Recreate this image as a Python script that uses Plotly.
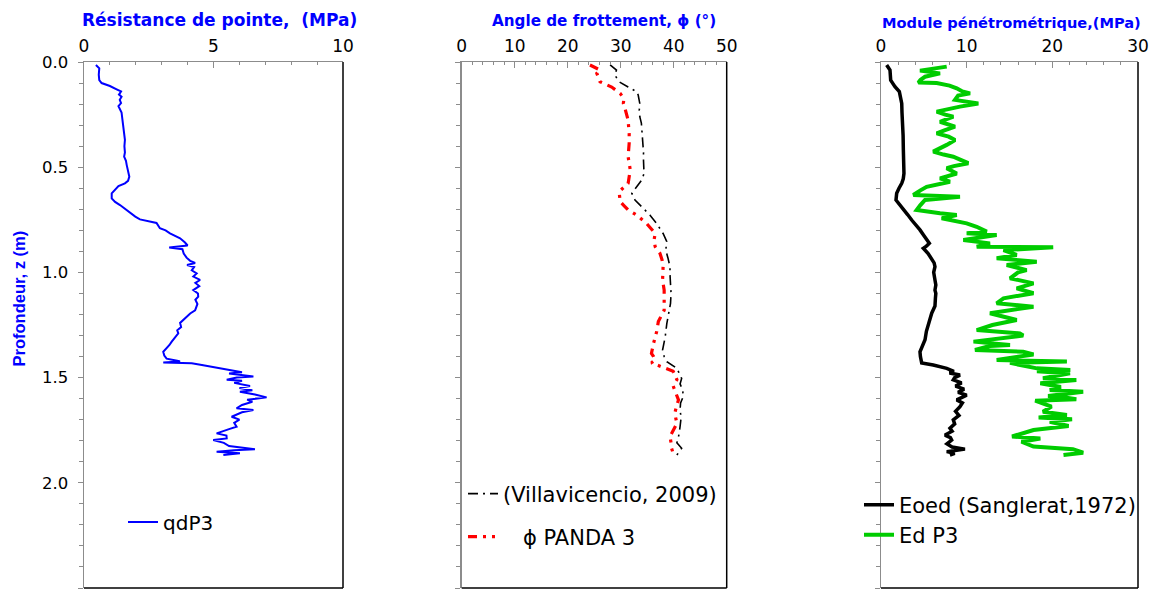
import plotly.graph_objects as go

# ---------------- data ----------------
# Panel 1 : cone resistance qd (MPa) vs depth z (m)
qd_z = [0.014, 0.03, 0.06, 0.086, 0.10, 0.114, 0.13, 0.14, 0.155, 0.165, 0.18, 0.195, 0.21, 0.225, 0.24, 0.27,
        0.31, 0.34, 0.37, 0.40, 0.43, 0.45, 0.47, 0.49, 0.52, 0.545, 0.565, 0.577, 0.59, 0.605, 0.624, 0.648,
        0.665, 0.68, 0.70, 0.72, 0.735, 0.748, 0.759, 0.765, 0.79, 0.80, 0.814, 0.83, 0.838, 0.858, 0.872,
        0.882, 0.89, 0.91, 0.93, 0.945, 0.955, 0.965, 0.975, 0.99, 1.005, 1.02, 1.036, 1.05, 1.065, 1.084,
        1.10, 1.115, 1.13, 1.15, 1.18, 1.195, 1.21, 1.225, 1.24, 1.26, 1.275, 1.29, 1.31, 1.33, 1.345, 1.36,
        1.377, 1.395, 1.41, 1.42, 1.424, 1.428, 1.432, 1.44, 1.45, 1.46, 1.47, 1.475, 1.48, 1.49, 1.495, 1.50,
        1.51, 1.515, 1.525, 1.54, 1.55, 1.56, 1.567, 1.58, 1.594, 1.605, 1.615, 1.63, 1.646, 1.654, 1.665,
        1.686, 1.70, 1.715, 1.733, 1.745, 1.765, 1.775, 1.789, 1.797, 1.81, 1.825, 1.84, 1.845, 1.852, 1.86, 1.868]
qd_val = [0.46, 0.59, 0.57, 0.59, 0.68, 1.00, 1.26, 1.43, 1.35, 1.45, 1.38, 1.43, 1.33, 1.40, 1.45, 1.48,
          1.52, 1.55, 1.58, 1.56, 1.58, 1.55, 1.62, 1.65, 1.70, 1.75, 1.70, 1.58, 1.33, 1.20, 1.07, 1.07,
          1.20, 1.39, 1.60, 1.78, 1.98, 2.16, 2.61, 2.80, 2.93, 3.15, 3.32, 3.55, 3.71, 3.90, 4.00,
          3.29, 3.80, 3.85, 3.96, 4.10, 4.29, 3.98, 4.25, 4.16, 4.35, 4.22, 4.48, 4.30, 4.45, 4.22,
          4.40, 4.41, 4.30, 4.38, 4.29, 4.10, 3.96, 3.85, 3.71, 3.75, 3.60, 3.64, 3.50, 3.38, 3.30, 3.19,
          3.06, 3.10, 3.19, 3.60, 3.71, 3.06, 4.16, 4.55, 4.99, 5.40, 5.76, 6.10, 5.60, 6.40, 6.54, 5.90,
          5.51, 6.10, 5.80, 6.41, 6.00, 6.50, 6.02, 6.60, 7.05, 6.30, 6.50, 6.10, 5.89, 6.54, 6.10,
          5.70, 6.00, 5.80, 5.89, 5.60, 5.12, 5.50, 5.51, 4.99, 5.40, 5.60, 6.60, 5.80, 5.12, 6.02, 5.38]

# Panel 2 : friction angle (deg)
vil_z = [0.014, 0.038, 0.062, 0.094, 0.119, 0.141, 0.157, 0.197, 0.23, 0.26, 0.29, 0.323, 0.36, 0.386, 0.43,
         0.466, 0.50, 0.53, 0.56, 0.585, 0.605, 0.624, 0.656, 0.696, 0.727, 0.768, 0.815, 0.854, 0.894, 0.93,
         0.973, 1.01, 1.052, 1.10, 1.147, 1.20, 1.243, 1.306, 1.34, 1.369, 1.40, 1.424, 1.456, 1.48, 1.504,
         1.53, 1.56, 1.59, 1.62, 1.654, 1.69, 1.733, 1.77, 1.81, 1.836, 1.868]
vil_phi = [28.0, 29.2, 28.9, 29.7, 31.4, 33.0, 33.3, 33.6, 33.5, 33.6, 33.9, 34.0, 34.1, 34.2, 34.3,
           34.3, 34.4, 34.4, 34.0, 33.3, 32.6, 32.1, 32.7, 34.3, 35.5, 36.8, 38.0, 38.7, 38.5, 38.9,
           39.3, 39.3, 39.4, 39.5, 39.4, 39.0, 38.7, 38.4, 38.2, 37.9, 38.2, 38.7, 40.6, 41.0, 41.5,
           41.2, 41.7, 41.8, 41.3, 41.2, 41.4, 41.2, 41.0, 40.6, 41.5, 40.6]

pan_z = [0.014, 0.025, 0.038, 0.054, 0.075, 0.094, 0.119, 0.149, 0.175, 0.197, 0.22, 0.25, 0.276, 0.31, 0.34,
         0.386, 0.42, 0.45, 0.48, 0.513, 0.545, 0.577, 0.616, 0.64, 0.664, 0.685, 0.703, 0.727, 0.768, 0.815,
         0.845, 0.878, 0.909, 0.94, 0.973, 1.036, 1.084, 1.13, 1.18, 1.234, 1.28, 1.337, 1.385, 1.40, 1.416,
         1.43, 1.45, 1.47, 1.49, 1.51, 1.54, 1.57, 1.606, 1.64, 1.67, 1.718, 1.75, 1.78, 1.81, 1.836, 1.86]
pan_phi = [24.2, 25.0, 26.1, 25.5, 25.8, 26.1, 28.3, 29.9, 30.6, 30.5, 30.8, 31.2, 31.4, 31.5, 31.6,
           31.6, 31.5, 31.4, 31.6, 31.8, 31.6, 31.4, 29.7, 29.8, 29.9, 30.7, 31.4, 33.0, 34.9, 36.5,
           36.3, 36.5, 37.4, 37.8, 38.0, 37.9, 38.2, 38.2, 38.2, 37.1, 36.8, 36.2, 35.8, 36.2, 36.5,
           35.8, 38.0, 39.9, 40.3, 40.6, 39.9, 40.4, 40.9, 40.5, 40.2, 40.6, 40.0, 39.3, 39.5, 39.6, 39.9]

# Panel 3 : penetrometric modulus (MPa)
eoed_z = [0.014, 0.038, 0.086, 0.117, 0.141, 0.17, 0.197, 0.24, 0.29, 0.35, 0.418, 0.47, 0.53, 0.555, 0.577,
          0.60, 0.624, 0.656, 0.696, 0.725, 0.751, 0.775, 0.798, 0.825, 0.846, 0.862, 0.875, 0.885, 0.91,
          0.933, 0.955, 0.973, 1.00, 1.036, 1.06, 1.084, 1.10, 1.123, 1.16, 1.194, 1.243, 1.28, 1.32, 1.35,
          1.377, 1.40, 1.43, 1.44, 1.456, 1.47, 1.478, 1.488, 1.50, 1.511, 1.525, 1.54, 1.555, 1.57, 1.583,
          1.595, 1.606, 1.62, 1.638, 1.66, 1.68, 1.701, 1.72, 1.741, 1.755, 1.773, 1.785, 1.797, 1.815, 1.83,
          1.84, 1.852, 1.86, 1.868]
eoed_val = [0.66, 1.05, 1.13, 1.63, 2.14, 2.30, 2.42, 2.45, 2.53, 2.58, 2.61, 2.65, 2.68, 2.60, 2.42,
            2.10, 1.83, 1.75, 2.61, 3.10, 3.58, 4.10, 4.55, 5.00, 5.33, 5.64, 5.30, 4.94, 5.50,
            5.92, 6.20, 6.30, 6.15, 6.30, 6.40, 6.30, 6.40, 6.35, 6.30, 5.92, 5.52, 5.30, 5.14, 4.80,
            4.55, 4.60, 4.75, 6.10, 7.67, 8.50, 8.00, 9.22, 8.60, 8.44, 9.40, 8.70, 9.70, 9.00, 10.0,
            9.40, 8.84, 9.50, 9.22, 8.70, 9.10, 8.44, 8.60, 8.05, 8.30, 7.47, 8.10, 8.25, 7.70, 8.30,
            9.80, 7.67, 8.60, 8.05]

ed_z = [0.022, 0.041, 0.054, 0.07, 0.085, 0.098, 0.10, 0.112, 0.125, 0.14, 0.149, 0.16, 0.18, 0.19, 0.197,
        0.212, 0.236, 0.25, 0.26, 0.284, 0.307, 0.325, 0.339, 0.355, 0.371, 0.394, 0.426, 0.44, 0.45, 0.465,
        0.481, 0.495, 0.505, 0.53, 0.553, 0.569, 0.593, 0.61, 0.632, 0.64, 0.656, 0.68, 0.703, 0.719, 0.727,
        0.743, 0.767, 0.783, 0.806, 0.814, 0.822, 0.846, 0.862, 0.878, 0.881, 0.894, 0.917, 0.933, 0.949,
        0.965, 0.989, 1.0, 1.028, 1.052, 1.076, 1.099, 1.123, 1.147, 1.163, 1.194, 1.226, 1.25, 1.274, 1.29,
        1.30, 1.329, 1.345, 1.35, 1.369, 1.377, 1.39, 1.416, 1.424, 1.43, 1.456, 1.464, 1.47, 1.48, 1.503,
        1.511, 1.527, 1.545, 1.559, 1.567, 1.575, 1.587, 1.595, 1.603, 1.61, 1.638, 1.662, 1.678, 1.69,
        1.698, 1.71, 1.73, 1.749, 1.765, 1.78, 1.789, 1.805, 1.828, 1.84, 1.857, 1.868]
ed_val = [7.67, 4.55, 6.89, 5.14, 4.60, 4.36, 6.50, 8.0, 8.84, 9.5, 10.4, 9.0, 8.64, 10.3, 11.36,
          9.22, 6.50, 7.5, 8.44, 6.89, 8.64, 7.4, 6.50, 7.9, 8.64, 7.67, 6.10, 7.3, 8.44, 9.3,
          10.19, 8.5, 7.67, 8.84, 6.89, 8.05, 5.33, 4.6, 3.77, 9.22, 5.14, 4.6, 4.17, 6.89, 8.84,
          7.08, 10.0, 11.17, 12.34, 10.0, 13.5, 9.61, 12.72, 11.17, 20.1, 14.3, 15.84, 13.5, 18.18,
          14.67, 17.0, 16.0, 15.06, 17.8, 15.84, 17.8, 14.3, 13.5, 17.8, 12.72, 15.84, 13.0, 11.17, 16.2,
          16.6, 10.8, 15.06, 12.7, 10.97, 16.6, 17.8, 13.5, 21.7, 15.06, 18.2, 22.1, 18.2, 22.06, 18.9,
          22.8, 18.6, 21.0, 19.7, 23.6, 22.06, 19.5, 21.5, 22.8, 18.0, 19.9, 18.9, 21.7, 18.4,
          22.3, 19.7, 21.9, 17.8, 16.5, 15.3, 18.6, 16.4, 17.8, 22.4, 23.6, 21.3]

x_ranges = [[0, 10], [0, 50], [0, 30]]
x_dticks = [5, 10, 10]
x_minor = [1, 2, 2]
titles = ["Résistance de pointe,\u00a0 (MPa)", "Angle de frottement, ϕ (°)", "Module pénétrométrique,(MPa)"]
y_range = [2.5, 0]

# ---------------- figure ----------------
W, H = 1153, 596
FONT = "DejaVu Sans, Verdana, sans-serif"
FONT_Y = "Liberation Sans, Arial, sans-serif"
px_x = lambda p: p / W
px_y = lambda p: 1 - p / H

fig = go.Figure()
fig.add_trace(go.Scatter(x=qd_val, y=qd_z, mode="lines", name="qdP3", xaxis="x", yaxis="y",
                         line=dict(color="#0000FF", width=2), legend="legend"))
fig.add_trace(go.Scatter(x=vil_phi, y=vil_z, mode="lines", name="(Villavicencio, 2009)", xaxis="x2", yaxis="y2",
                         line=dict(color="black", width=1.6, dash="10px,5px,2px,5px"), legend="legend2"))
fig.add_trace(go.Scatter(x=pan_phi, y=pan_z, mode="lines", name="\u00a0" * 3 + "ϕ PANDA 3", xaxis="x2", yaxis="y2",
                         line=dict(color="#FF0000", width=3.2, dash="9px,6px,3px,6px,3px,6px"), legend="legend3"))
fig.add_trace(go.Scatter(x=eoed_val, y=eoed_z, mode="lines", name="Eoed (Sanglerat,1972)", xaxis="x3", yaxis="y3",
                         line=dict(color="black", width=3.5), legend="legend4"))
fig.add_trace(go.Scatter(x=ed_val, y=ed_z, mode="lines", name="Ed P3", xaxis="x3", yaxis="y3",
                         line=dict(color="#00CC00", width=4), legend="legend5"))

domains = [[84, 343], [461.7, 726.7], [881, 1138]]
ydom = [px_y(588), px_y(62)]
GREY = "#8c8c8c"
layout = dict(width=W, height=H, margin=dict(l=0, r=0, t=0, b=0), paper_bgcolor="white", plot_bgcolor="white",
              font=dict(family=FONT, size=16, color="black"), showlegend=True)
for i in range(3):
    sfx = "" if i == 0 else str(i + 1)
    layout["xaxis" + sfx] = dict(domain=[px_x(domains[i][0]), px_x(domains[i][1])], range=x_ranges[i],
                                 side="top", anchor="y" + sfx, dtick=x_dticks[i], tick0=0,
                                 showgrid=False, zeroline=False, showline=True, linecolor=GREY, linewidth=1.5,
                                 ticks="inside", ticklen=6, tickcolor=GREY, tickwidth=1,
                                 minor=dict(dtick=x_minor[i], ticks="inside", ticklen=3, tickcolor=GREY),
                                 tickfont=dict(size=17, family=FONT, color="black"), ticklabelstandoff=2,
                                 fixedrange=True, automargin=False)
    layout["yaxis" + sfx] = dict(domain=ydom, range=y_range, anchor="x" + sfx, dtick=0.5, tick0=0,
                                 showgrid=False, zeroline=False, showline=True, linecolor=GREY, linewidth=1.5,
                                 ticks="outside", ticklen=5, tickcolor=GREY, tickwidth=1,
                                 minor=dict(dtick=0.1, ticks="outside", ticklen=4, tickcolor=GREY),
                                 showticklabels=(i == 0), tickformat=".1f",
                                 tickfont=dict(size=16.5, family=FONT, color="black"), ticklabelstandoff=6,
                                 fixedrange=True, automargin=False)
fig.update_layout(**layout)

# black right/bottom frame of each panel
for i in range(3):
    sfx = "" if i == 0 else str(i + 1)
    fig.add_shape(type="line", xref="x" + sfx + " domain", yref="y" + sfx + " domain", x0=1, x1=1, y0=0, y1=1,
                  line=dict(color="black", width=1.5))
    fig.add_shape(type="line", xref="x" + sfx + " domain", yref="y" + sfx + " domain", x0=0, x1=1, y0=0, y1=0,
                  line=dict(color="black", width=1.5))

# panel titles
title_x = [219, 604, 1012]
title_y = [20, 21, 22]
title_size = [17, 15.2, 14.6]
for i in range(3):
    fig.add_annotation(text="<b>" + titles[i] + "</b>", x=px_x(title_x[i]), y=px_y(title_y[i]),
                       xref="paper", yref="paper", showarrow=False,
                       font=dict(size=title_size[i], color="#0000FF", family=FONT),
                       xanchor="center", yanchor="middle")
fig.add_annotation(text="<b>Profondeur, z (m)</b>", x=px_x(18.5), y=px_y(299), xref="paper", yref="paper",
                   showarrow=False, textangle=-90, font=dict(size=16.5, color="#0000FF", family=FONT_Y),
                   xanchor="center", yanchor="middle")

leg_common = dict(bgcolor="rgba(0,0,0,0)", borderwidth=0, font=dict(size=21, family=FONT, color="black"),
                  xanchor="left", yanchor="middle", xref="paper", yref="paper")
fig.update_layout(
    legend=dict(x=px_x(123), y=px_y(522), font=dict(size=20, family=FONT, color="black"),
                **{k: v for k, v in leg_common.items() if k != "font"}),
    legend2=dict(x=px_x(463), y=px_y(494), **leg_common),
    legend3=dict(x=px_x(463), y=px_y(537), **leg_common),
    legend4=dict(x=px_x(859), y=px_y(505), **leg_common),
    legend5=dict(x=px_x(859), y=px_y(535), **leg_common),
)

fig.write_html("out.html", config={"displayModeBar": False, "staticPlot": True},
               post_script="document.body.style.margin='0';document.body.style.overflow='hidden';")
